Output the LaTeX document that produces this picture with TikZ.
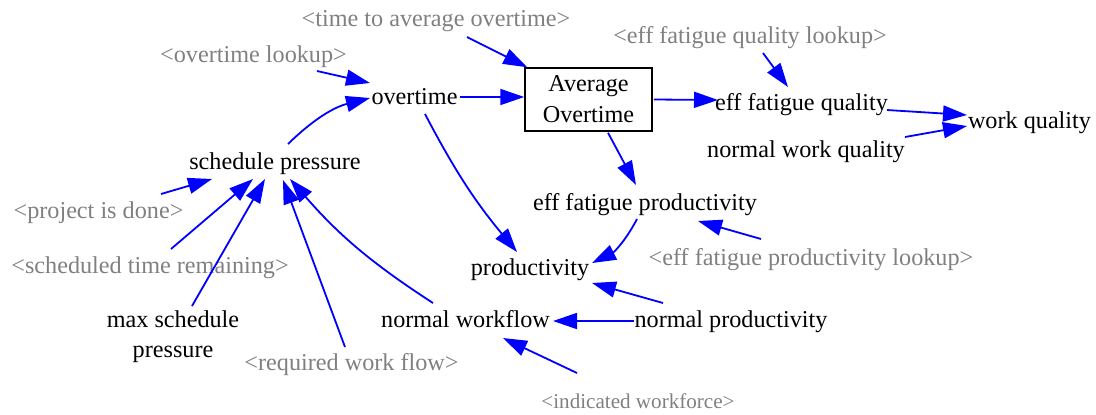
\documentclass[tikz,border=0pt]{standalone}
\usepackage{fontspec}
\setmainfont{Liberation Serif}
\usetikzlibrary{arrows.meta,calc}
\definecolor{lnk}{RGB}{0,0,255}
\definecolor{shd}{RGB}{128,128,128}
\begin{document}
\begin{tikzpicture}[x=0.5pt,y=-0.5pt,
  var/.style={inner sep=0pt,anchor=base,font=\fontsize{12.1pt}{15.5pt}\selectfont},
  ghost/.style={var,text=shd},
  smallghost/.style={ghost,font=\fontsize{10.55pt}{12pt}\selectfont},
  stock/.style={draw=black,line width=0.75pt,inner sep=0pt,minimum width=63.5pt,minimum height=31.5pt,align=center,font=\fontsize{12.1pt}{15.5pt}\selectfont},
  lnkarrow/.style={draw=lnk,line width=0.9pt,-{Triangle[length=12pt,width=8pt]}}
]
\useasboundingbox (0,0) rectangle (1096,414);

% nodes
\node[ghost] (tavg) at (436,26) {<time to average overtime>};
\node[ghost] (olk) at (253.5,62) {<overtime lookup>};
\node[var] (ovt) at (414.5,104) {overtime};
\node[stock] (avg) at (588.5,99.5) {Average\\Overtime};
\node[ghost] (efql) at (750,43) {<eff fatigue quality lookup>};
\node[var] (efq) at (801.5,110) {eff fatigue quality};
\node[var] (wq) at (1029.5,128) {work quality};
\node[var] (nwq) at (806,157) {normal work quality};
\node[var] (sp) at (275,169) {schedule pressure};
\node[ghost] (pid) at (98.5,218) {<project is done>};
\node[ghost] (str) at (150,273) {<scheduled time remaining>};
\node[var,anchor=center,align=center,font=\fontsize{12.1pt}{15pt}\selectfont] (msp) at (173,337) {max schedule\\pressure};
\node[ghost] (rwf) at (351.5,370) {<required work flow>};
\node[var] (nwf) at (465.5,327) {normal workflow};
\node[var] (np) at (731,327) {normal productivity};
\node[smallghost] (iw) at (638,408) {<indicated workforce>};
\node[var] (prod) at (530,275) {productivity};
\node[var] (efp) at (645,210) {eff fatigue productivity};
\node[ghost] (efpl) at (811,265) {<eff fatigue productivity lookup>};

% connectors
\draw[lnkarrow] ($(tavg.base)+(31,11)$) -- ($(avg.north west)+(3,0)$);
\draw[lnkarrow] ($(olk.base)+(63.5,9)$) -- ($(ovt.base)+(-44.5,-21)$);
\draw[lnkarrow] ($(sp.base)+(13,-25)$) to[bend left=15] ($(ovt.base)+(-44.5,-6)$);
\draw[lnkarrow] ($(ovt.base)+(45.5,-7)$) -- ($(avg.west)+(0,-2.5)$);
\draw[lnkarrow] ($(avg.east)+(1,0)$) -- ($(efq.base)+(-83.5,-10)$);
\draw[lnkarrow] ($(efql.base)+(13,10)$) -- ($(efq.base)+(-13.5,-23)$);
\draw[lnkarrow] ($(efq.base)+(85.5,0)$) -- ($(wq.base)+(-62.5,-13)$);
\draw[lnkarrow] ($(nwq.base)+(99,-20)$) -- ($(wq.base)+(-62.5,-2)$);
\draw[lnkarrow] ($(avg.south)+(19.5,1)$) -- ($(efp.base)+(-9,-25)$);
\draw[lnkarrow] ($(ovt.base)+(10.5,10)$) to[bend right=6] ($(prod.base)+(-13,-23)$);
\draw[lnkarrow] ($(efp.base)+(-8,9)$) to[bend left=18] ($(prod.base)+(62,-12)$);
\draw[lnkarrow] ($(efpl.base)+(-50,-26)$) -- ($(efp.base)+(53,11)$);
\draw[lnkarrow] ($(np.base)+(-68,-24)$) -- ($(prod.base)+(62,8)$);
\draw[lnkarrow] ($(np.base)+(-97,-6)$) -- ($(nwf.base)+(87.5,-6)$);
\draw[lnkarrow] ($(iw.base)+(-61,-35)$) -- ($(nwf.base)+(37.5,11)$);
\draw[lnkarrow] ($(nwf.base)+(-32.5,-24)$) to[bend left=8] ($(sp.base)+(15,10)$);
\draw[lnkarrow] ($(rwf.base)+(-6.5,-23)$) -- ($(sp.base)+(8,11)$);
\draw[lnkarrow] ($(msp.center)+(19,-31)$) -- ($(sp.base)+(-10,10)$);
\draw[lnkarrow] ($(str.base)+(21,-24)$) -- ($(sp.base)+(-22,10)$);
\draw[lnkarrow] ($(pid.base)+(62.5,-24)$) -- ($(sp.base)+(-63,10)$);
\end{tikzpicture}
\end{document}
